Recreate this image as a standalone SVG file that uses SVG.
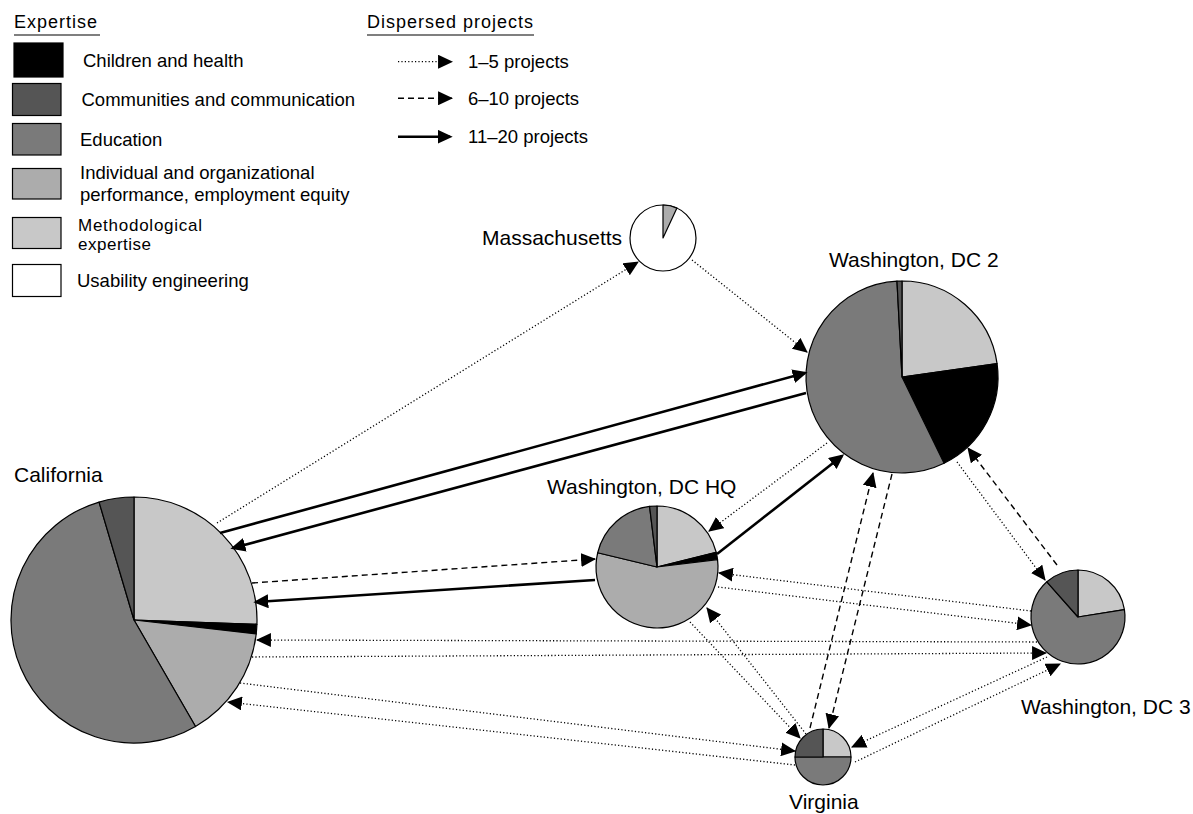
<svg xmlns="http://www.w3.org/2000/svg" width="1193" height="814" viewBox="0 0 1193 814">
<defs>
<style>
text{font-family:"Liberation Sans",Arial,sans-serif;fill:#000}
.lg{font-size:18.5px}
.lg2{font-size:17px}
.hd{font-size:18px}
.nl{font-size:21px}
.s{stroke:#000;stroke-width:1.2;stroke-linejoin:round}
.ch{fill:#000}
.cm{fill:#555555}
.ed{fill:#7a7a7a}
.io{fill:#acacac}
.me{fill:#c8c8c8}
.us{fill:#ffffff}
.box{stroke:#000;stroke-width:1.2}
.dot{fill:none;stroke:#000;stroke-width:1.3;stroke-dasharray:1.2 2.2;marker-end:url(#ah)}
.dash{fill:none;stroke:#000;stroke-width:1.4;stroke-dasharray:6 4;marker-end:url(#ah)}
.solid{fill:none;stroke:#000;stroke-width:2.6;marker-end:url(#ah2)}
</style>
<marker id="ah" viewBox="0 0 14 13" markerWidth="15" markerHeight="14" refX="13" refY="6.5" orient="auto" markerUnits="userSpaceOnUse">
<path d="M0,0 L14,6.5 L0,13 Z" fill="#000" stroke="none"/>
</marker>
<marker id="ah2" viewBox="0 0 14 13" markerWidth="15" markerHeight="14" refX="11.5" refY="6.5" orient="auto" markerUnits="userSpaceOnUse">
<path d="M0,0 L14,6.5 L0,13 Z" fill="#000" stroke="none"/>
</marker>
</defs>
<rect width="1193" height="814" fill="#fff"/>

<g id="legend-expertise">
<text class="hd" x="14" y="27.5" textLength="83" lengthAdjust="spacing">Expertise</text>
<line x1="14" y1="35" x2="100" y2="35" stroke="#000" stroke-width="1.2"/>
<rect class="box ch" x="14" y="43" width="49" height="34"/>
<text class="lg" x="83" y="67">Children and health</text>
<rect class="box cm" x="12.5" y="83.5" width="48.5" height="32"/>
<text class="lg" x="81.5" y="106">Communities and communication</text>
<rect class="box ed" x="12.5" y="123.5" width="48.5" height="31.5"/>
<text class="lg" x="80" y="146">Education</text>
<rect class="box io" x="12.5" y="168.5" width="48.5" height="30.5"/>
<text class="lg"><tspan x="80" y="179">Individual and organizational</tspan><tspan x="80" y="201">performance, employment equity</tspan></text>
<rect class="box me" x="12.5" y="217.5" width="48.5" height="31"/>
<text class="lg2" x="78" y="231" textLength="124" lengthAdjust="spacing">Methodological</text>
<text class="lg2" x="78" y="250" textLength="73" lengthAdjust="spacing">expertise</text>
<rect class="box us" x="12.5" y="264.5" width="48.5" height="32"/>
<text class="lg" x="77" y="287">Usability engineering</text>
</g>

<g id="legend-projects">
<text class="hd" x="367" y="27.5" textLength="166" lengthAdjust="spacing">Dispersed projects</text>
<line x1="367" y1="35" x2="534" y2="35" stroke="#000" stroke-width="1.2"/>
<line class="dot" x1="398" y1="61.7" x2="452" y2="61.7"/>
<text class="lg" x="468" y="68">1–5 projects</text>
<line class="dash" x1="398" y1="98.3" x2="452" y2="98.3"/>
<text class="lg" x="468" y="104.5">6–10 projects</text>
<line class="solid" x1="398" y1="136.7" x2="450" y2="136.7"/>
<text class="lg" x="468" y="143">11–20 projects</text>
</g>

<g id="node-california">
<path class="s me" d="M134,620 L134,497 A123,123 0 0 1 256.93,624.29 Z"/>
<path class="s ch" d="M134,620 L256.93,624.29 A123,123 0 0 1 256.21,633.92 Z"/>
<path class="s io" d="M134,620 L256.21,633.92 A123,123 0 0 1 195.5,726.52 Z"/>
<path class="s ed" d="M134,620 L195.5,726.52 A123,123 0 1 1 99.07,502.07 Z"/>
<path class="s cm" d="M134,620 L99.07,502.07 A123,123 0 0 1 134,497 Z"/>
<text class="nl" x="14" y="482">California</text>
</g>

<g id="node-massachusetts">
<circle class="s us" cx="663" cy="238" r="33"/>
<path class="s io" d="M663,238 L663,205 A33,33 0 0 1 676.95,208.09 Z"/>
<text class="nl" x="482" y="245">Massachusetts</text>
</g>

<g id="node-washington-dc-2">
<path class="s me" d="M902,377 L902,281 A96,96 0 0 1 997.07,363.64 Z"/>
<path class="s ch" d="M902,377 L997.07,363.64 A96,96 0 0 1 944.08,463.28 Z"/>
<path class="s ed" d="M902,377 L944.08,463.28 A96,96 0 1 1 896.98,281.13 Z"/>
<path class="s cm" d="M902,377 L896.98,281.13 A96,96 0 0 1 902,281 Z"/>
<text class="nl" x="829" y="267">Washington, DC 2</text>
</g>

<g id="node-washington-dc-hq">
<path class="s me" d="M657,567 L657,506 A61,61 0 0 1 716.19,552.24 Z"/>
<path class="s ch" d="M657,567 L716.19,552.24 A61,61 0 0 1 717.55,559.57 Z"/>
<path class="s io" d="M657,567 L717.55,559.57 A61,61 0 1 1 597.69,552.76 Z"/>
<path class="s ed" d="M657,567 L597.69,552.76 A61,61 0 0 1 649.57,506.45 Z"/>
<path class="s cm" d="M657,567 L649.57,506.45 A61,61 0 0 1 657,506 Z"/>
<text class="nl" x="547" y="494">Washington, DC HQ</text>
</g>

<g id="node-washington-dc-3">
<path class="s me" d="M1078,617 L1078,570 A47,47 0 0 1 1124.42,609.65 Z"/>
<path class="s ed" d="M1078,617 L1124.42,609.65 A47,47 0 1 1 1046.86,581.8 Z"/>
<path class="s cm" d="M1078,617 L1046.86,581.8 A47,47 0 0 1 1078,570 Z"/>
<text class="nl" x="1021" y="714">Washington, DC 3</text>
</g>

<g id="node-virginia">
<path class="s me" d="M823,757 L823,729 A28,28 0 0 1 851,757 Z"/>
<path class="s ed" d="M823,757 L851,757 A28,28 0 0 1 795,757 Z"/>
<path class="s cm" d="M823,757 L795,757 A28,28 0 0 1 823,729 Z"/>
<text class="nl" x="789" y="809">Virginia</text>
</g>

<g id="connectors">
<line class="dot" x1="217" y1="523" x2="638" y2="262"/>
<line class="dot" x1="692" y1="260" x2="807" y2="352"/>
<line class="solid" x1="220" y1="533" x2="805" y2="373"/>
<line class="solid" x1="806" y1="393" x2="233" y2="548"/>
<line class="dash" x1="252" y1="583" x2="595" y2="559"/>
<line class="solid" x1="595" y1="580" x2="256" y2="602"/>
<line class="solid" x1="717" y1="554" x2="842" y2="456"/>
<line class="dot" x1="827" y1="443" x2="709" y2="531"/>
<line class="dash" x1="810" y1="728" x2="873" y2="473"/>
<line class="dash" x1="892" y1="474" x2="829" y2="728"/>
<line class="dot" x1="957" y1="462" x2="1045" y2="580"/>
<line class="dash" x1="1057" y1="565" x2="968" y2="448"/>
<line class="dot" x1="1031" y1="611" x2="719" y2="573"/>
<line class="dot" x1="718" y1="587" x2="1031" y2="625"/>
<line class="dot" x1="1037" y1="642" x2="257" y2="640"/>
<line class="dot" x1="252" y1="657" x2="1046" y2="653"/>
<line class="dot" x1="240" y1="683" x2="795" y2="751"/>
<line class="dot" x1="795" y1="765" x2="228" y2="702"/>
<line class="dot" x1="690" y1="622" x2="800" y2="738"/>
<line class="dot" x1="806" y1="734" x2="707" y2="608"/>
<line class="dot" x1="1047" y1="657" x2="852" y2="747"/>
<line class="dot" x1="855" y1="762" x2="1060" y2="664"/>
</g>
</svg>
